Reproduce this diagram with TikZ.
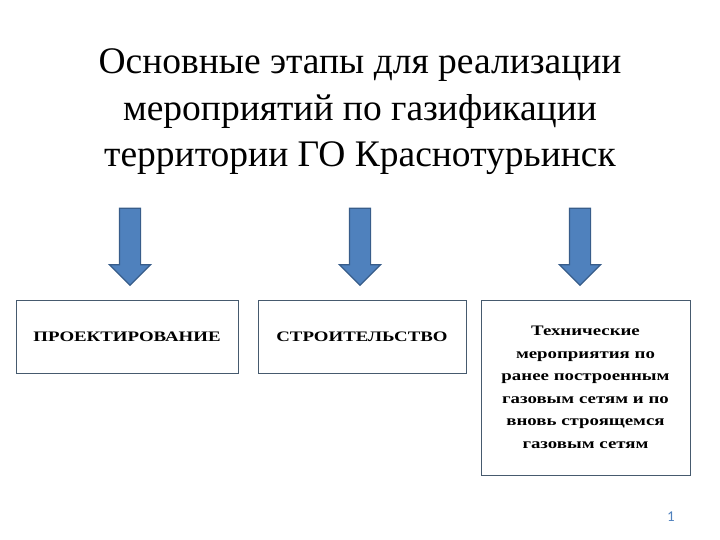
\documentclass[tikz,border=0pt]{standalone}
\usepackage{fontspec}
\setmainfont{Liberation Serif}
\newfontfamily\boxfont[FakeStretch=1.3]{Liberation Serif}
\newfontfamily\pgnum{Carlito}
\usetikzlibrary{shapes.arrows}
\definecolor{arrblue}{RGB}{79,129,189}
\definecolor{arrline}{RGB}{56,93,138}
\definecolor{boxline}{RGB}{70,90,110}
\begin{document}
\begin{tikzpicture}[x=1pt,y=-1pt,
  downarrow/.style={single arrow,draw=arrline,fill=arrblue,line width=1.2pt,
    shape border rotate=270,minimum height=77pt,
    single arrow head extend=10pt,single arrow tip angle=90,inner sep=10pt},
  stagebox/.style={draw=boxline,line width=1pt,fill=white,align=center,
    font=\boxfont\bfseries\fontsize{14.5}{22.5}\selectfont,inner sep=0pt}]
\useasboundingbox (0,0) rectangle (720,540);
\node[align=center,font=\fontsize{37.5}{46.5}\selectfont] (title) at (360,112)
  {Основные этапы для реализации\\мероприятий по газификации\\территории ГО Краснотурьинск};
\node[downarrow] (a1) at (130,241.5) {};
\node[downarrow] (a2) at (360,241.5) {};
\node[downarrow] (a3) at (580,241.5) {};
\node[stagebox,minimum width=222pt,minimum height=73pt] (b1) at (127,337) {ПРОЕКТИРОВАНИЕ};
\node[stagebox,minimum width=208pt,minimum height=73pt] (b2) at (362,337) {СТРОИТЕЛЬСТВО};
\node[stagebox,minimum width=209pt,minimum height=175pt,text width=200pt] (b3) at (585.5,387.5)
  {Технические\\мероприятия по\\ранее построенным\\газовым сетям и по\\вновь строящемся\\газовым сетям};
\node[font=\pgnum\fontsize{15}{17}\selectfont,text=arrblue] (pg) at (671,517) {1};
\end{tikzpicture}
\end{document}
